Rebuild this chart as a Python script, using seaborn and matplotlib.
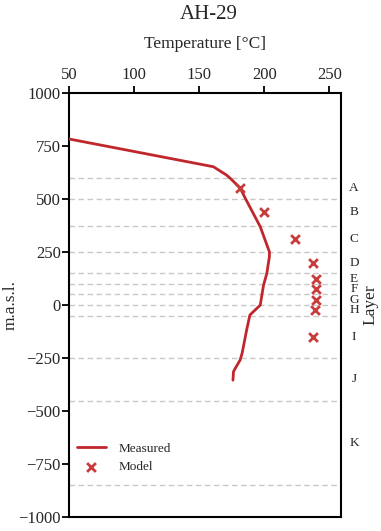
import matplotlib
matplotlib.use("Agg")
import matplotlib.pyplot as plt
import seaborn as sns
import pandas as pd

# Measured temperature profile (°C vs. elevation in m.a.s.l.)
measured_temp = [50, 161, 171, 174, 181.5, 185.5, 197, 204, 204, 202, 199.5, 198, 197,
                 189, 186.5, 183, 181.5, 177.7, 176.4, 176]
measured_elev = [783, 652, 613, 597, 552, 503, 369, 251, 228, 149, 94, 39, 0,
                 -47, -118, -228, -259, -299, -314, -354]

# Modelled temperature at the middle of each layer
layers = ["A", "B", "C", "D", "E", "F", "G", "H", "I", "J", "K"]
layer_mid = [550, 437.5, 312.5, 200, 125, 75, 25, -25, -150, -350, -650]
model_temp = [181.5, 200, 223.3, 237.4, 240, 240, 239.6, 239, 237.4]
model_elev = [550, 437.5, 312.5, 200, 125, 75, 25, -25, -150]

# Layer boundaries
boundaries = [600, 500, 375, 250, 150, 100, 50, 0, -50, -250, -450, -850]

xticks = [50, 100, 150, 200, 250]
yticks = [1000, 750, 500, 250, 0, -250, -500, -750, -1000]

sns.set_style("white")
plt.rcParams["font.family"] = ["Liberation Serif", "DejaVu Serif"]
plt.rcParams["axes.unicode_minus"] = True

fig = plt.figure(figsize=(3.81, 5.31), dpi=100)
ax = fig.add_axes([0.181, 0.026, 0.714, 0.799])

for b in boundaries:
    ax.axhline(b, color="#c8c8c8", lw=1.0, ls=(0, (4, 2.5)), zorder=1)

line_df = pd.DataFrame({"temp": measured_temp, "elev": measured_elev})
model_df = pd.DataFrame({"temp": model_temp, "elev": model_elev})

sns.lineplot(data=line_df, x="temp", y="elev", sort=False, estimator=None,
             color="#c0272d", lw=2.0, ax=ax, label="Measured", zorder=3)
sns.scatterplot(data=model_df, x="temp", y="elev", marker="x", s=40,
                color="#c83c3c", linewidth=2.0, ax=ax, label="Model", zorder=4)

ax.set_xlim(50, 259)
ax.set_ylim(-1000, 1000)
ax.set_xticks(xticks)
ax.set_yticks(yticks)
ax.xaxis.tick_top()
ax.xaxis.set_label_position("top")
ax.tick_params(axis="x", top=True, bottom=False, direction="out", length=5,
               width=1.3, labelsize=12, pad=2, color="black")
ax.tick_params(axis="y", left=True, right=False, direction="out", length=5,
               width=1.3, labelsize=12, pad=1, color="black")
ax.set_xlabel("Temperature [°C]", fontsize=12.5, labelpad=14)
ax.set_ylabel("m.a.s.l.", fontsize=12.5)
ax.yaxis.set_label_coords(-0.185, 0.5)
for s in ax.spines.values():
    s.set_color("black")
    s.set_linewidth(1.5)

# Layer names along the right edge
for name, mid in zip(layers, layer_mid):
    ax.text(1.048, mid, name, transform=ax.get_yaxis_transform(),
            ha="center", va="center", fontsize=9.5)
ax.text(1.11, 0.5, "Layer", transform=ax.transAxes, rotation=90,
        ha="center", va="center", fontsize=12.5)

fig.text(0.547, 0.972, "AH-29", ha="center", va="center", fontsize=15)

leg = ax.legend(loc="lower left", bbox_to_anchor=(0.0, 0.085), frameon=False,
                fontsize=9.5, handlelength=2.2, handletextpad=1.0,
                borderaxespad=0.2, labelspacing=0.45)

fig.savefig("out.png", dpi=100)
